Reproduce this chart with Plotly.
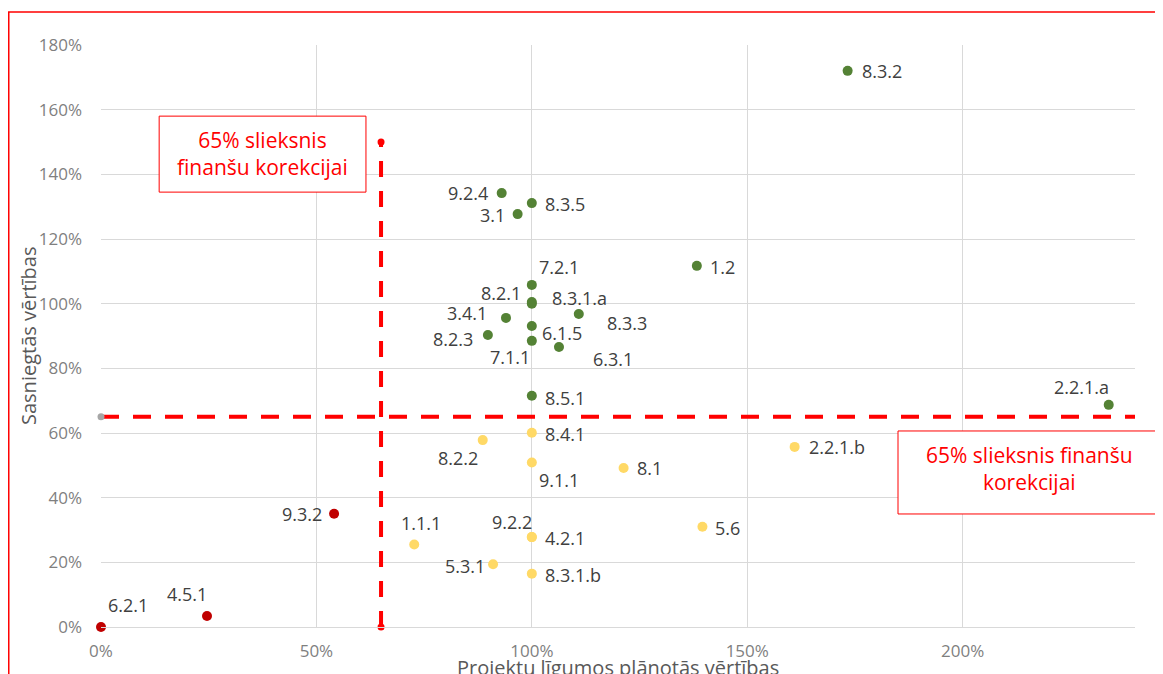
import plotly.graph_objects as go

# data (values in %)
green_labels = ["8.3.2", "9.2.4", "8.3.5", "3.1", "1.2", "7.2.1", "8.2.1", "8.3.1.a",
                "3.4.1", "8.3.3", "6.1.5", "8.2.3", "7.1.1", "6.3.1", "8.5.1", "2.2.1.a"]
green_x = [173.3, 93.0, 100, 96.7, 138.3, 100, 100, 100, 94.0, 110.9, 100, 89.8, 100, 106.3, 100, 233.9]
green_y = [172.0, 134.2, 131.1, 127.7, 111.7, 105.8, 100.5, 100.0, 95.6, 96.8, 93.1, 90.3, 88.5, 86.6, 71.5, 68.7]

yellow_labels = ["8.4.1", "8.2.2", "9.1.1", "8.1", "2.2.1.b", "5.6", "1.1.1", "9.2.2", "4.2.1", "5.3.1", "8.3.1.b"]
yellow_x = [100, 88.6, 100, 121.3, 161.0, 139.6, 72.7, 100, 100, 91.0, 100]
yellow_y = [60.1, 57.8, 50.9, 49.2, 55.7, 31.0, 25.5, 27.8, 27.8, 19.4, 16.5]

red_labels = ["9.3.2", "4.5.1", "6.2.1"]
red_x = [54.1, 24.6, 0]
red_y = [35.0, 3.4, 0]

threshold = 65
h_line_x = [0, 240]
v_line_y = [0, 150]

x_ticks = [0, 50, 100, 150, 200]
y_ticks = [0, 20, 40, 60, 80, 100, 120, 140, 160, 180]

box_text = "65% slieksnis<br>finanšu korekcijai"
box_text2 = "65% slieksnis finanšu<br>korekcijai"

# label placement: (xanchor, xshift, yshift)
label_pos = {
    "8.3.2": ("left", 12, 0), "9.2.4": ("right", -12, 0), "8.3.5": ("left", 11, -1),
    "3.1": ("right", -11, -1), "1.2": ("left", 11, -1), "7.2.1": ("left", 5, 18),
    "8.2.1": ("right", -9, 9), "8.3.1.a": ("left", 18, 6), "3.4.1": ("right", -17, 5),
    "8.3.3": ("left", 26, -9), "6.1.5": ("left", 8, -7), "8.2.3": ("right", -13, -4),
    "7.1.1": ("right", 0, -16), "6.3.1": ("left", 32, -12), "8.5.1": ("left", 11, -2),
    "2.2.1.a": ("right", 2, 18),
    "8.4.1": ("left", 11, -1), "8.2.2": ("right", -3, -18), "9.1.1": ("left", 5, -18),
    "8.1": ("left", 11, 0), "2.2.1.b": ("left", 12, 0), "5.6": ("left", 11, -1),
    "1.1.1": ("center", 7, 22), "9.2.2": ("right", 2, 15), "4.2.1": ("left", 11, -1),
    "5.3.1": ("right", -6, -2), "8.3.1.b": ("left", 11, -1),
    "9.3.2": ("right", -10, 0), "4.5.1": ("center", -20, 22), "6.2.1": ("left", 5, 22),
}

FONT = "Open Sans"
fig = go.Figure()

# threshold lines
fig.add_trace(go.Scatter(
    x=h_line_x, y=[threshold, threshold], mode="lines+markers",
    line=dict(color="#ff0000", width=4, dash="18px,14px"),
    marker=dict(size=7, color=["#a6a6a6", "rgba(0,0,0,0)"]),
    cliponaxis=False, showlegend=False, hoverinfo="skip"
))
fig.add_trace(go.Scatter(
    x=[threshold, threshold], y=v_line_y, mode="lines+markers",
    line=dict(color="#ff0000", width=4, dash="16px,14px"),
    marker=dict(size=7, color="#ff0000"),
    cliponaxis=False, showlegend=False, hoverinfo="skip"
))

for xs, ys, labels, color in [(green_x, green_y, green_labels, "#548235"),
                              (yellow_x, yellow_y, yellow_labels, "#ffd966"),
                              (red_x, red_y, red_labels, "#c00000")]:
    fig.add_trace(go.Scatter(
        x=xs, y=ys, mode="markers", text=labels,
        marker=dict(size=10, color=color),
        cliponaxis=False, showlegend=False
    ))
    for x, y, lab in zip(xs, ys, labels):
        anchor, dx, dy = label_pos[lab]
        fig.add_annotation(
            x=x, y=y, text=lab, showarrow=False, xanchor=anchor, yanchor="middle",
            xshift=dx, yshift=dy, font=dict(family=FONT, size=18, color="#404040")
        )

# threshold text boxes
fig.add_shape(type="rect", xref="x", yref="y", x0=13.5, x1=61.5, y0=134.5, y1=158.0,
              line=dict(color="#ff0000", width=1), fillcolor="white", layer="above")
fig.add_annotation(x=37.5, y=146.3, xref="x", yref="y", text=box_text, showarrow=False,
                   xanchor="center", yanchor="middle",
                   font=dict(family=FONT, size=21, color="#ff0000"))
fig.add_shape(type="rect", xref="paper", yref="paper", x0=0.7708, x1=1.036, y0=0.1942, y1=0.3368,
              line=dict(color="#ff0000", width=1), fillcolor="white", layer="above")
fig.add_annotation(x=0.898, y=0.2715, xref="paper", yref="paper", text=box_text2, showarrow=False,
                   xanchor="center", yanchor="middle",
                   font=dict(family=FONT, size=21, color="#ff0000"))

# outer frame
fig.add_shape(type="rect", xref="paper", yref="paper", x0=-0.0892, x1=1.04, y0=-0.12, y1=1.0567,
              line=dict(color="#ff0000", width=1.5), layer="above")

# axis titles
fig.add_annotation(x=0.5, y=-0.0704, xref="paper", yref="paper", text="Projektu līgumos plānotās vērtības",
                   showarrow=False, xanchor="center", yanchor="middle",
                   font=dict(family=FONT, size=20, color="#595959"))
fig.add_annotation(x=-0.0706, y=0.5, xref="paper", yref="paper", text="Sasniegtās vērtības", textangle=-90,
                   showarrow=False, xanchor="center", yanchor="middle",
                   font=dict(family=FONT, size=20, color="#595959"))

fig.update_xaxes(range=[0, 240], tickvals=x_ticks, ticktext=[f"{v}%" for v in x_ticks],
                 showgrid=True, gridcolor="#d9d9d9",
                 zeroline=False, showline=True, linecolor="#d9d9d9", ticklabelstandoff=9,
                 tickfont=dict(family=FONT, size=17, color="#7f7f7f"))
fig.update_yaxes(range=[0, 180], tickvals=y_ticks, ticktext=[f"{v}%" for v in y_ticks],
                 showgrid=True, gridcolor="#d9d9d9",
                 zeroline=False, ticklabelstandoff=18,
                 tickfont=dict(family=FONT, size=17, color="#7f7f7f"))

# the page body adds an 8px offset, so the figure is laid out 8px smaller
fig.update_layout(
    width=1155, height=666,
    margin=dict(l=93, r=28, t=37, b=47, autoexpand=False),
    plot_bgcolor="white", paper_bgcolor="white",
)

fig.write_html("out.html")
